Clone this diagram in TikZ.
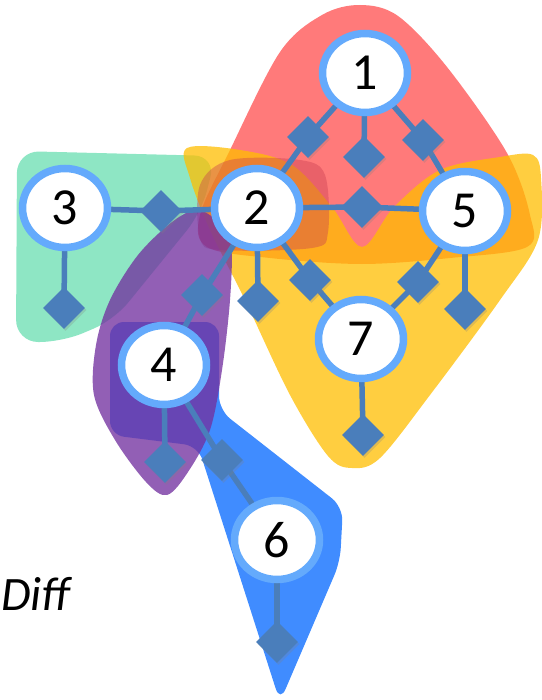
\documentclass[tikz,border=0pt]{standalone}
\usepackage{fontspec}
\setmainfont{Carlito}
\usetikzlibrary{shapes.geometric,shadows}
\pgfdeclarelayer{hull}
\pgfdeclarelayer{edges}
\pgfsetlayers{hull,edges,main}
\definecolor{edgeblue}{RGB}{74,126,187}
\definecolor{ringblue}{RGB}{100,170,252}
\definecolor{hgreen}{RGB}{142,230,196}
\definecolor{hred}{RGB}{255,122,122}
\definecolor{hyellow}{RGB}{255,190,0}
\definecolor{hblob}{RGB}{200,60,80}
\definecolor{hblue}{RGB}{64,140,255}
\definecolor{hpurple}{RGB}{115,50,160}
\tikzset{
  vert/.style={ellipse, draw=ringblue, line width=7.5pt, fill=white,
    minimum width=85pt, minimum height=79pt, inner sep=0pt,
    font=\fontsize{52}{52}\selectfont,
    drop shadow={shadow xshift=1.5pt, shadow yshift=-2pt, opacity=0.25}},
  dia/.style={diamond, fill=edgeblue, minimum width=42pt, minimum height=42pt,
    inner sep=0pt, aspect=1,
    drop shadow={shadow xshift=1.5pt, shadow yshift=-2pt, opacity=0.25}},
  link/.style={draw=edgeblue, line width=5.5pt},
  hullshape/.style={smooth cycle, tension=0.55}
}
\begin{document}
\begin{tikzpicture}[x=1pt,y=-1pt]
\useasboundingbox (0,0) rectangle (541,700);

% vertices
\node[vert] (n1) at (365,73) {1};
\node[vert] (n2) at (257,208) {2};
\node[vert] (n5) at (465,211) {5};
\node[vert] (n3) at (65,208) {3};
\node[vert] (n4) at (164,365) {4};
\node[vert] (n6) at (277,540) {6};
\node[vert] (n7) at (361,339) {7};

% hyperedge diamonds
\node[dia] (d12) at (308,137) {};
\node[dia] (d1) at (364,157) {};
\node[dia] (d15) at (423,140) {};
\node[dia] (d25) at (362,207) {};
\node[dia] (d32) at (161,211) {};
\node[dia] (d3) at (64,308) {};
\node[dia] (d24) at (202,295) {};
\node[dia] (d2) at (258,301) {};
\node[dia] (d27) at (310,280) {};
\node[dia] (d57) at (418,282) {};
\node[dia] (d5) at (465,309) {};
\node[dia] (d7) at (363,435) {};
\node[dia] (d4) at (165,462) {};
\node[dia] (d46) at (222,460) {};
\node[dia] (d6) at (277,642) {};

\node[anchor=base west, inner sep=0pt, font=\fontsize{48}{48}\selectfont\itshape] (lbl) at (1,610) {Diff};

\begin{pgfonlayer}{edges}
\draw[link] (n1.center) -- (d12.center) -- (n2.center);
\draw[link] (n1.center) -- (d1.center);
\draw[link] (n1.center) -- (d15.center) -- (n5.center);
\draw[link] (n2.center) -- (d25.center) -- (n5.center);
\draw[link] (n3.center) -- (d32.center) -- (n2.center);
\draw[link] (n3.center) -- (d3.center);
\draw[link] (n2.center) -- (d24.center) -- (n4.center);
\draw[link] (n2.center) -- (d2.center);
\draw[link] (n2.center) -- (d27.center) -- (n7.center);
\draw[link] (n5.center) -- (d57.center) -- (n7.center);
\draw[link] (n5.center) -- (d5.center);
\draw[link] (n7.center) -- (d7.center);
\draw[link] (n4.center) -- (d4.center);
\draw[link] (n4.center) -- (d46.center) -- (n6.center);
\draw[link] (n6.center) -- (d6.center);
\end{pgfonlayer}

\begin{pgfonlayer}{hull}
% green
\fill[hgreen, rounded corners=22pt] (17,151) -- (216,156) -- (201,213) -- (114,320) -- (62,342) -- (16,342) -- cycle;
% red
\fill[hred] plot[hullshape] coordinates {(360,5) (398,16) (447,67) (507,153) (530,215) (527,247) (450,258) (362,264) (270,258) (207,247) (200,215) (230,150) (280,52) (322,15)};
% yellow
\fill[hyellow, opacity=0.75] plot[hullshape] coordinates {(187,148) (240,150) (292,165) (332,207) (362,247) (394,207) (440,170) (500,157) (533,155) (541,178) (538,240) (500,300) (430,395) (380,458) (352,468) (328,456) (290,395) (245,300) (210,230) (190,178)};
% small red blob near 2
\fill[hblob, opacity=0.4] plot[hullshape] coordinates {(230,160) (300,160) (325,175) (328,232) (312,248) (220,250) (200,238) (200,185)};
% blue
\fill[hblue, rounded corners=14pt] (110,322) -- (219,322) -- (219,410) -- (343,507) -- (340,562) -- (280,702) -- (198,446) -- (110,435) -- cycle;
% purple
\fill[hpurple, opacity=0.78] plot[hullshape] coordinates {(197,210) (218,222) (231,245) (230,300) (222,370) (210,430) (188,472) (167,495) (146,482) (115,440) (94,395) (96,345) (110,300) (138,255) (172,222)};
\end{pgfonlayer}
\end{tikzpicture}
\end{document}
